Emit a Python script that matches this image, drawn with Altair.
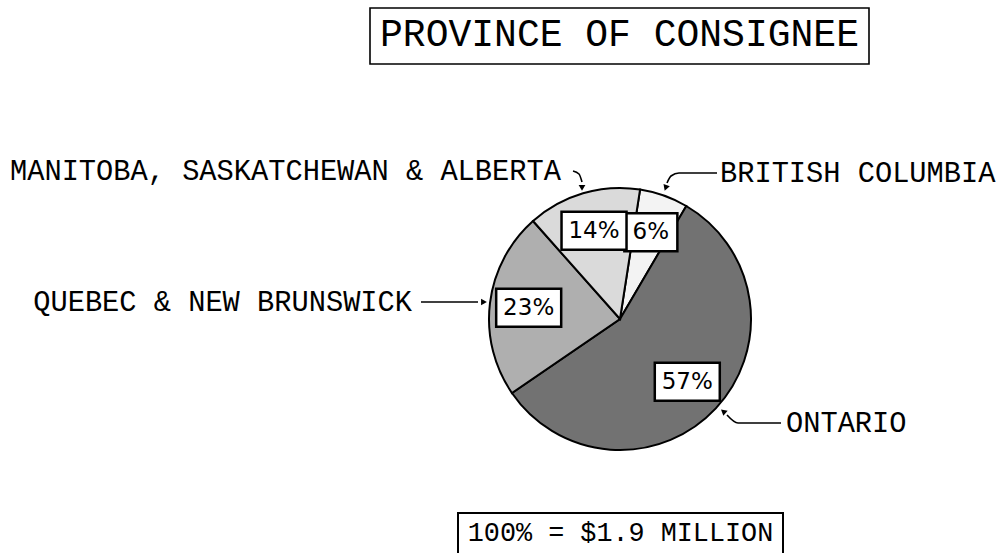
import math
import altair as alt
import pandas as pd

# ---------------- data ----------------
regions = ["BRITISH COLUMBIA", "ONTARIO", "QUEBEC & NEW BRUNSWICK",
           "MANITOBA, SASKATCHEWAN & ALBERTA"]
shares = [6, 57, 23, 14]
share_labels = ["6%", "57%", "23%", "14%"]
chart_title = "PROVINCE OF CONSIGNEE"
total_note = "100% = $1.9 MILLION"

# ---------------- layout / style ----------------
W, H = 999, 553
CX, CY, R = 620, 319, 131          # pie centre and radius (px)
START_DEG = 8.8                     # first slice starts just right of 12 o'clock
LABEL_R = 92
fills = ["#f3f3f3", "#727272", "#afafaf", "#dadada"]
MONO = "Liberation Mono"
SANS = "DejaVu Sans"

TITLE_BOX = (370, 8, 869, 64)
NOTE_BOX = (458, 513, 783, 562)

callout_pos = {
    "BRITISH COLUMBIA": (720, 173, "left"),
    "ONTARIO": (786, 423, "left"),
    "QUEBEC & NEW BRUNSWICK": (412, 302, "right"),
    "MANITOBA, SASKATCHEWAN & ALBERTA": (10, 171, "left"),
}
leader_paths = {
    "BRITISH COLUMBIA": [(717, 173), (679, 173), (671, 176), (667, 183)],
    "ONTARIO": [(781, 423), (738, 423), (727, 415)],
    "QUEBEC & NEW BRUNSWICK": [(421, 302), (478, 302)],
    "MANITOBA, SASKATCHEWAN & ALBERTA": [(573, 171), (579, 174), (582, 182)],
}
arrow_heads = {
    "BRITISH COLUMBIA": (666, 187, 200),
    "ONTARIO": (724, 412, 310),
    "QUEBEC & NEW BRUNSWICK": (483, 302, 90),
    "MANITOBA, SASKATCHEWAN & ALBERTA": (582, 187, 180),
}

# ---------------- tables ----------------
start = math.radians(START_DEG)
pie_df = pd.DataFrame({"region": regions, "share": shares,
                       "idx": list(range(len(regions))), "label": share_labels})

total = sum(shares)
cum = 0
lx, ly = [], []
for v in shares:
    mid = start + 2 * math.pi * (cum + v / 2) / total
    lx.append(CX + LABEL_R * math.sin(mid))
    ly.append(CY - LABEL_R * math.cos(mid))
    cum += v
pie_df["lx"] = lx
pie_df["ly"] = ly
pie_df["bw"] = [29 + 12 * len(s) for s in share_labels]
pie_df["x0"] = pie_df["lx"] - pie_df["bw"] / 2
pie_df["x1"] = pie_df["lx"] + pie_df["bw"] / 2
pie_df["y0"] = pie_df["ly"] - 19
pie_df["y1"] = pie_df["ly"] + 19

callout_df = pd.DataFrame([
    {"text": r, "x": callout_pos[r][0], "y": callout_pos[r][1], "align": callout_pos[r][2]}
    for r in regions
])
leader_rows = []
for r in regions:
    for i, (px, py) in enumerate(leader_paths[r]):
        leader_rows.append({"region": r, "i": i, "x": px, "y": py})
leader_df = pd.DataFrame(leader_rows)
head_df = pd.DataFrame([
    {"region": r, "x": arrow_heads[r][0], "y": arrow_heads[r][1], "ang": arrow_heads[r][2]}
    for r in regions
])
boxes_df = pd.DataFrame([
    {"x0": TITLE_BOX[0], "y0": TITLE_BOX[1], "x1": TITLE_BOX[2], "y1": TITLE_BOX[3], "w": 1.6},
    {"x0": NOTE_BOX[0], "y0": NOTE_BOX[1], "x1": NOTE_BOX[2], "y1": NOTE_BOX[3], "w": 2.0},
])
texts_df = pd.DataFrame([
    {"text": chart_title, "x": (TITLE_BOX[0] + TITLE_BOX[2]) / 2, "y": 35, "size": 38},
    {"text": total_note, "x": (NOTE_BOX[0] + NOTE_BOX[2]) / 2, "y": 533, "size": 26.8},
])

xs = alt.Scale(domain=[0, W], nice=False, zero=False)
ys = alt.Scale(domain=[0, H], nice=False, zero=False, reverse=True)


def X(f):
    return alt.X(f, type="quantitative", scale=xs, axis=None)


def Y(f):
    return alt.Y(f, type="quantitative", scale=ys, axis=None)


pie = alt.Chart(pie_df).mark_arc(radius=R, stroke="black", strokeWidth=2).encode(
    theta=alt.Theta("share:Q", stack=True,
                    scale=alt.Scale(range=[start, start + 2 * math.pi])),
    order=alt.Order("idx:Q"),
    color=alt.Color("region:N", scale=alt.Scale(domain=regions, range=fills), legend=None),
    x=alt.value(CX),
    y=alt.value(CY),
)

label_boxes = alt.Chart(pie_df).mark_rect(fill="white", stroke="black", strokeWidth=2.5).encode(
    x=X("x0"), x2="x1", y=Y("y0"), y2="y1")
label_text = alt.Chart(pie_df).mark_text(font=SANS, fontSize=23, color="black",
                                         align="center", baseline="middle").encode(
    x=X("lx"), y=Y("ly"), text="label:N")

frames = alt.Chart(boxes_df).mark_rect(fill=None, stroke="black").encode(
    x=X("x0"), x2="x1", y=Y("y0"), y2="y1",
    strokeWidth=alt.StrokeWidth("w:Q", scale=None))
frame_text = alt.Chart(texts_df).mark_text(font=MONO, color="black", align="center",
                                           baseline="middle").encode(
    x=X("x"), y=Y("y"), text="text:N", size=alt.Size("size:Q", scale=None))

callout_left = alt.Chart(callout_df[callout_df["align"] == "left"]).mark_text(
    font=MONO, fontSize=28.7, color="black", align="left", baseline="middle").encode(
    x=X("x"), y=Y("y"), text="text:N")
callout_right = alt.Chart(callout_df[callout_df["align"] == "right"]).mark_text(
    font=MONO, fontSize=28.7, color="black", align="right", baseline="middle").encode(
    x=X("x"), y=Y("y"), text="text:N")

leaders = alt.Chart(leader_df).mark_line(color="black", strokeWidth=1.6,
                                         interpolate="monotone").encode(
    x=X("x"), y=Y("y"), detail="region:N", order="i:Q")
heads = alt.Chart(head_df).mark_point(shape="triangle", filled=True, color="black",
                                      size=45, opacity=1).encode(
    x=X("x"), y=Y("y"), angle=alt.Angle("ang:Q", scale=None))

chart = alt.layer(
    pie, label_boxes, label_text, frames, frame_text,
    callout_left, callout_right, leaders, heads
).properties(
    width=W, height=H, padding=0,
    autosize=alt.AutoSizeParams(type="none"),
    background="white",
).configure_view(stroke=None)

chart.save("out.html", embed_options={"renderer": "svg", "actions": False})
